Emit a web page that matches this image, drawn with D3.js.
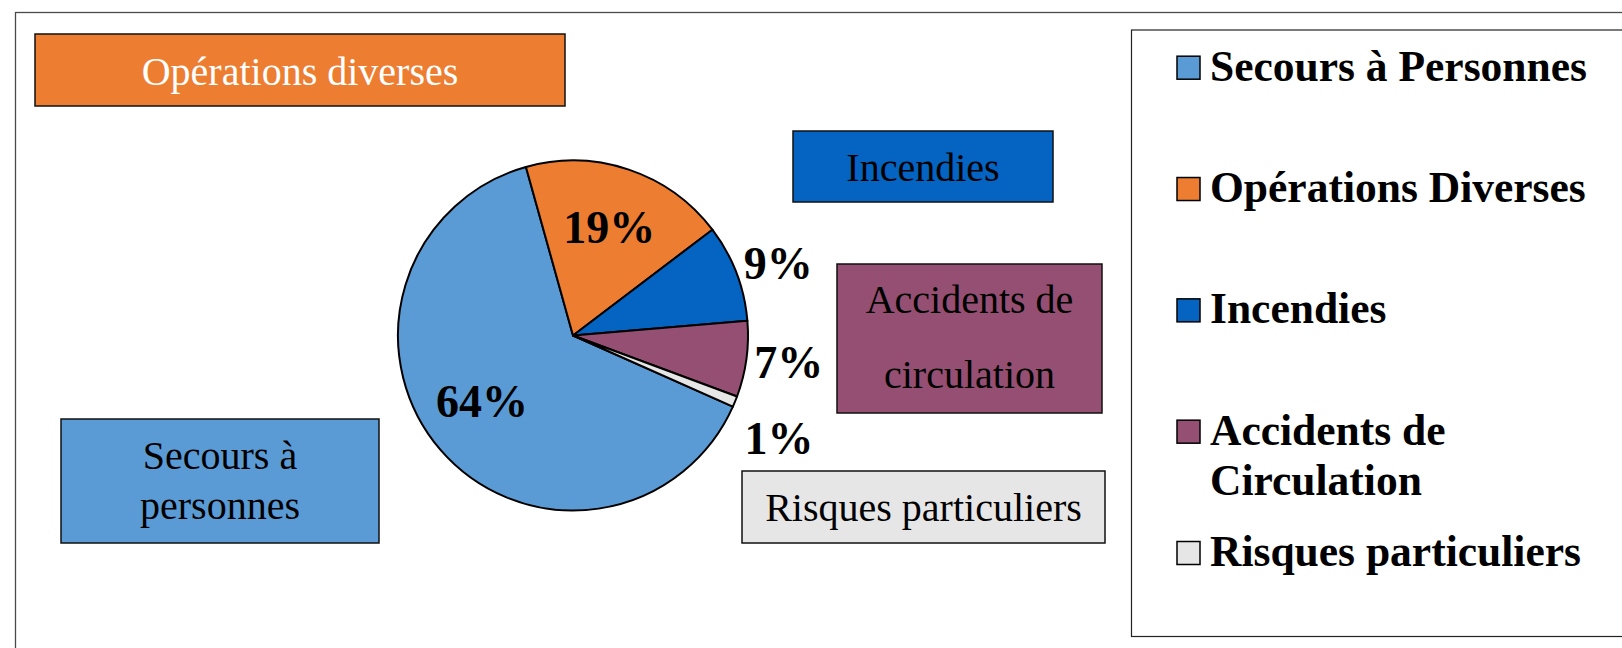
<!DOCTYPE html>
<html>
<head>
<meta charset="utf-8">
<script src="https://cdn.jsdelivr.net/npm/d3@7"></script>
<style>
  body { margin: 0; background: #fff; }
  svg { display: block; font-family: 'Liberation Serif', 'Times New Roman', serif; }
</style>
</head>
<body>
<svg id="chart" width="1622" height="648"></svg>
<script>
// données du graphique
const categories = ['Secours à Personnes', 'Opérations Diverses', 'Incendies', 'Accidents de Circulation', 'Risques particuliers']
const shares = [64, 19, 9, 7, 1]
const legendLines = [['Secours à Personnes'], ['Opérations Diverses'], ['Incendies'], ['Accidents de', 'Circulation'], ['Risques particuliers']]
const calloutLines = [['Secours à', 'personnes'], ['Opérations diverses'], ['Incendies'], ['Accidents de', 'circulation'], ['Risques particuliers']]
const palette = ['#5B9BD5', '#ED7D31', '#0563C1', '#954F72', '#E7E6E6']

// mise en page
const cx = 573
const cy = 335.5
const radius = 175
const startDeg = 114
const pctFont = 46
// cadres d'annotation: [x, y, w, h, 1re ligne de base, interligne, couleur texte]
const callouts = {
  'Secours à Personnes': [61, 419, 318, 124, 469, 50, '#000'],
  'Opérations Diverses': [35, 34, 530, 72, 85, 0, '#fff'],
  Incendies: [793, 131, 260, 71, 181, 0, '#000'],
  'Accidents de Circulation': [837, 264, 265, 149, 313, 75, '#000'],
  'Risques particuliers': [742, 471, 363, 72, 521, 0, '#000'],
}
// petits décalages des étiquettes (Excel "ajustement optimal")
const labelNudge = { 'Secours à Personnes': [-5, -8], 'Risques particuliers': [2, 28] }

const color = d3.scaleOrdinal().domain(categories).range(palette)
const svg = d3.select('#chart')

// cadre extérieur (coupé à droite et en bas)
svg.append('rect')
  .attr('x', 15.5).attr('y', 12.5)
  .attr('width', 1700).attr('height', 700)
  .attr('fill', 'none')
  .attr('stroke', '#4a4a4a')
  .attr('stroke-width', 1.3)

// camembert
const data = categories.map((name, i) => ({ name, value: shares[i] }))
const start = startDeg * Math.PI / 180
const pie = d3.pie().sort(null).value(d => d.value)
  .startAngle(start)
  .endAngle(start + 2 * Math.PI)
const arcs = pie(data)
const arc = d3.arc().innerRadius(0).outerRadius(radius)

const pieLayer = svg.append('g').attr('transform', `translate(${cx},${cy})`)
pieLayer.selectAll('path.slice')
  .data(arcs)
  .enter()
  .append('path')
  .classed('slice', true)
  .attr('d', arc)
  .attr('fill', d => color(d.data.name))
  .attr('stroke', '#000')
  .attr('stroke-width', 2)
  .attr('stroke-linejoin', 'round')

// étiquettes de pourcentage
pieLayer.selectAll('text.pct')
  .data(arcs)
  .enter()
  .append('text')
  .classed('pct', true)
  .attr('font-size', pctFont)
  .attr('font-weight', 'bold')
  .attr('fill', '#000')
  .each(function placeLabel(d) {
    const a = (d.startAngle + d.endAngle) / 2
    const span = d.endAngle - d.startAngle
    const nudge = labelNudge[d.data.name] || [0, 0]
    const t = d3.select(this).text(`${d.data.value}%`)
    if (span > 0.8) {
      const r = radius * 0.65
      t.attr('text-anchor', 'middle')
        .attr('x', r * Math.sin(a) + nudge[0])
        .attr('y', -r * Math.cos(a) + pctFont * 0.33 + nudge[1])
    } else {
      const r = radius + 8
      const midY = -r * Math.cos(a) - Math.cos(a) * 16
      t.attr('text-anchor', 'start')
        .attr('x', r * Math.sin(a) + nudge[0])
        .attr('y', midY + pctFont * 0.33 + nudge[1])
    }
  })

// cadres d'annotation
const calloutLayer = svg.append('g')
const calloutGroups = calloutLayer.selectAll('g.callout')
  .data(data)
  .enter()
  .append('g')
  .classed('callout', true)
calloutGroups.append('rect')
  .attr('x', d => callouts[d.name][0])
  .attr('y', d => callouts[d.name][1])
  .attr('width', d => callouts[d.name][2])
  .attr('height', d => callouts[d.name][3])
  .attr('fill', d => color(d.name))
  .attr('stroke', '#111')
  .attr('stroke-width', 1.5)
calloutGroups.each(function addLines(d, i) {
  const [x, , w, , base, lead, fill] = callouts[d.name]
  d3.select(this).selectAll('text')
    .data(calloutLines[i])
    .enter()
    .append('text')
    .attr('x', x + w / 2)
    .attr('y', (line, j) => base + j * lead)
    .attr('text-anchor', 'middle')
    .attr('font-size', 40)
    .attr('fill', fill)
    .text(line => line)
})

// légende
svg.append('rect')
  .attr('x', 1131.5).attr('y', 30)
  .attr('width', 600).attr('height', 606.5)
  .attr('fill', '#fff')
  .attr('stroke', '#222')
  .attr('stroke-width', 1.2)

const legendRow = d3.scalePoint()
  .domain(categories)
  .range([80.7, 566])
const legendItems = svg.append('g').selectAll('g.legend-item')
  .data(categories)
  .enter()
  .append('g')
  .classed('legend-item', true)
  .attr('transform', d => `translate(1177,${legendRow(d)})`)
legendItems.append('rect')
  .attr('x', 0).attr('y', -24.5)
  .attr('width', 23).attr('height', 23)
  .attr('fill', d => color(d))
  .attr('stroke', '#000')
  .attr('stroke-width', 1.5)
legendItems.each(function addLegendText(d, i) {
  d3.select(this).selectAll('text')
    .data(legendLines[i])
    .enter()
    .append('text')
    .attr('x', 33)
    .attr('y', (line, j) => j * 50.7)
    .attr('font-size', 43.5)
    .attr('font-weight', 'bold')
    .attr('fill', '#000')
    .text(line => line)
})
</script>
</body>
</html>
